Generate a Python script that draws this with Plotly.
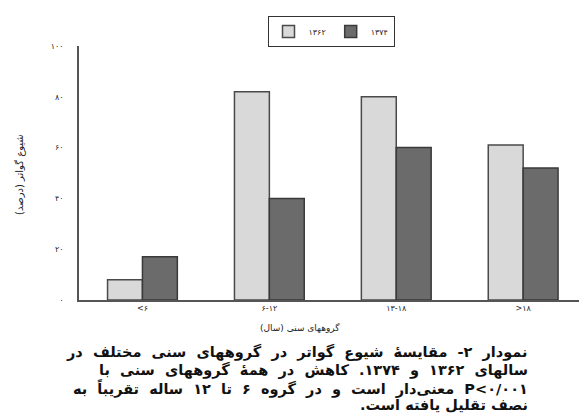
import plotly.graph_objects as go

categories = ["<۶", "۶-۱۲", "۱۳-۱۸", ">۱۸"]
series_names = ["۱۳۶۲", "۱۳۷۴"]
values_1362 = [8, 82, 80, 61]
values_1374 = [17, 40, 60, 52]
y_ticks = [0, 20, 40, 60, 80, 100]
y_tick_labels = ["۰", "۲۰", "۴۰", "۶۰", "۸۰", "۱۰۰"]
y_title = "شیوع گواتر (درصد)"
x_title = "گروههای سنی (سال)"
caption_lines = [
    "نمودار ۲- مقایسهٔ شیوع گواتر در گروههای سنی مختلف در",
    "سالهای ۱۳۶۲ و ۱۳۷۴. کاهش در همهٔ گروههای سنی با",
    "P<۰/۰۰۱ معنی‌دار است و در گروه ۶ تا ۱۲ ساله تقریباً به",
    "نصف تقلیل یافته است.",
]
caption_pad = [1, 1, 1, 0]

W, H = 579, 420
L, R, T, B = 79, 0, 46, 120
pw, ph = W - L - R, H - T - B


def px_x(x):
    return (x - L) / pw


def px_y(y):
    return (H - B - y) / ph


fig = go.Figure()
fig.add_trace(go.Bar(
    x=categories, y=values_1362, name=series_names[0],
    marker=dict(color="#d9d9d9", line=dict(color="#4a4a4a", width=1.5)),
))
fig.add_trace(go.Bar(
    x=categories, y=values_1374, name=series_names[1],
    marker=dict(color="#6b6b6b", line=dict(color="#3a3a3a", width=1.5)),
))

annotations = [
    dict(text=y_title, x=px_x(20), y=px_y(175), xref="paper", yref="paper",
         textangle=-90, showarrow=False, font=dict(size=10, color="#222"),
         xanchor="center", yanchor="middle"),
    dict(text=x_title, x=px_x(300), y=px_y(327), xref="paper", yref="paper",
         showarrow=False, font=dict(size=9, color="#222"),
         xanchor="center", yanchor="middle"),
]
line_y = [352, 370, 388, 405]
for txt, yy, pad in zip(caption_lines, line_y, caption_pad):
    t = txt.replace(" ", " " + "\u00a0" * pad)
    annotations.append(dict(
        text="\u202b" + t + "\u202c", x=px_x(530), y=px_y(yy),
        xref="paper", yref="paper", showarrow=False,
        xanchor="right", yanchor="middle",
        font=dict(family="DejaVu Sans", size=14.5, color="#111", weight="bold"),
    ))

fig.update_layout(
    width=W, height=H,
    margin=dict(l=L, r=R, t=T, b=B),
    paper_bgcolor="white", plot_bgcolor="white",
    barmode="group", bargap=0.45, bargroupgap=0,
    font=dict(family="DejaVu Sans", size=8, color="#222"),
    showlegend=True,
    legend=dict(orientation="h", x=px_x(331), y=px_y(16), xanchor="center", yanchor="top",
                bordercolor="#333", borderwidth=1, font=dict(size=8),
                bgcolor="white", itemwidth=30),
    annotations=annotations,
)
fig.update_xaxes(range=[-0.5, 3.44], showline=True, linecolor="#555", linewidth=1.5,
                 ticks="", showgrid=False, tickfont=dict(size=8))
fig.update_yaxes(range=[0, 100], tickvals=y_ticks, ticktext=y_tick_labels,
                 showline=True, linecolor="#555", linewidth=1.5, ticks="",
                 showgrid=False, zeroline=False, ticklabelstandoff=12,
                 tickfont=dict(size=8))

fig.write_html("out.html", config={"displayModeBar": False},
               post_script="document.body.style.margin='0px';")
